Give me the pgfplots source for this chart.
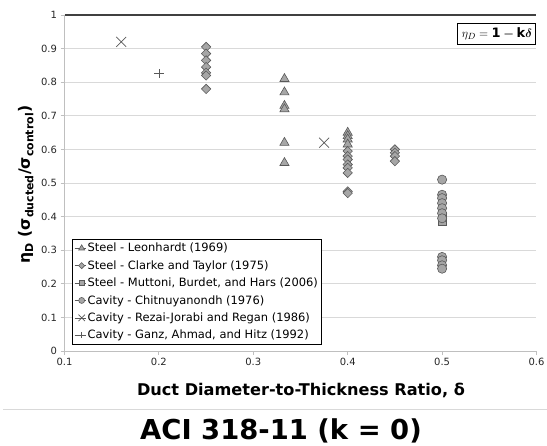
\documentclass[border=0pt]{standalone}
\usepackage{pgfplots}
\pgfplotsset{compat=1.18}
\usepackage{amsmath}
\usepackage{fontspec}
\setmainfont{DejaVu Sans}
\definecolor{mfill}{HTML}{A6A6A6}
\definecolor{mdraw}{HTML}{595959}
\definecolor{gridc}{HTML}{D9D9D9}
\definecolor{axisc}{HTML}{BFBFBF}
\definecolor{topc}{HTML}{404040}
\begin{document}
\begin{tikzpicture}
\begin{axis}[
  scale only axis, width=472bp, height=336bp,
  xmin=0.1, xmax=0.6, ymin=0, ymax=1,
  xtick={0.1,0.2,0.3,0.4,0.5,0.6},
  ytick={0,0.1,0.2,0.3,0.4,0.5,0.6,0.7,0.8,0.9,1},
  axis x line*=bottom, axis y line*=left,
  axis line style={axisc, line width=0.8bp},
  ymajorgrids, grid style={gridc, line width=0.8bp},
  tick align=outside, major tick length=4bp,
  tick style={axisc, line width=0.8bp},
  ticklabel style={font=\fontsize{10}{12}\selectfont, text=black!85},
  /pgf/number format/assume math mode=true,
  clip=false,
  xlabel={Duct Diameter-to-Thickness Ratio, δ},
  xlabel style={at={(axis description cs:0.501,-0.116)}, anchor=center, font=\fontsize{16.2}{18}\selectfont\bfseries},
  ylabel={η\textsubscript{D} (σ\textsubscript{ducted}/σ\textsubscript{control})},
  ylabel style={at={(axis description cs:-0.082,0.4955)}, anchor=center, font=\fontsize{15.7}{18}\selectfont\bfseries},
  legend style={at={(0.0153,0.018)}, anchor=south west, draw=black, line width=1.2bp,
    font=\fontsize{11.5}{13}\selectfont, inner xsep=2bp, inner ysep=2.5bp, row sep=4.2bp,
    nodes={inner xsep=1.5bp, inner ysep=1.5bp}},
  legend cell align=left,
  legend image code/.code={\path (-7bp,0bp) -- (4bp,0bp); \draw[every mark/.append style={scale=0.65}] plot coordinates {(0bp,0bp)};},
]
\addplot[only marks, mark=triangle*, mark size=5.3bp, line width=0.6bp, draw=mdraw, fill=mfill] coordinates {
 (0.333,0.81) (0.333,0.77) (0.333,0.73) (0.333,0.72) (0.333,0.62) (0.333,0.56)
 (0.4,0.65) (0.4,0.64) (0.4,0.63) (0.4,0.615)
};
\addlegendentry{Steel - Leonhardt (1969)}
\addplot[only marks, mark=square*, mark size=3.3bp, mark options={rotate=45}, line width=0.6bp, draw=mdraw, fill=mfill] coordinates {
 (0.25,0.905) (0.25,0.885) (0.25,0.865) (0.25,0.845) (0.25,0.828) (0.25,0.82) (0.25,0.78)
 (0.4,0.595) (0.4,0.58) (0.4,0.57) (0.4,0.555) (0.4,0.545) (0.4,0.53) (0.4,0.475) (0.4,0.47)
 (0.45,0.60) (0.45,0.59) (0.45,0.58) (0.45,0.565)
};
\addlegendentry{Steel - Clarke and Taylor (1975)}
\addplot[only marks, mark=square*, mark size=4bp, line width=0.6bp, draw=mdraw, fill=mfill] coordinates {
 (0.5,0.385) (0.5,0.40)
};
\addlegendentry{Steel - Muttoni, Burdet, and Hars (2006)}
\addplot[only marks, mark=*, mark size=4.6bp, line width=0.6bp, draw=mdraw, fill=mfill] coordinates {
 (0.5,0.51) (0.5,0.465) (0.5,0.455) (0.5,0.44) (0.5,0.425) (0.5,0.41) (0.5,0.395)
 (0.5,0.28) (0.5,0.27) (0.5,0.255) (0.5,0.245)
};
\addlegendentry{Cavity - Chitnuyanondh (1976)}
\addplot[only marks, mark=x, mark size=7bp, line width=0.7bp, draw=mdraw] coordinates {
 (0.16,0.92) (0.375,0.62)
};
\addlegendentry{Cavity - Rezai-Jorabi and Regan (1986)}
\addplot[only marks, mark=+, mark size=4.7bp, line width=0.7bp, draw=mdraw] coordinates {
 (0.2,0.825)
};
\addlegendentry{Cavity - Ganz, Ahmad, and Hitz (1992)}
\addplot[forget plot, no marks, topc, line width=1.8bp] coordinates {(0.1,1) (0.6,1)};
\node[draw=black, line width=1bp, anchor=north east, inner xsep=4bp, inner ysep=4.5bp, fill=white,
  font=\fontsize{13}{15}\selectfont] at (rel axis cs:1.0,0.976)
  {$\eta_{D} = \mathbf{1} \boldsymbol{-} \mathbf{k}\boldsymbol{\delta}$};
\end{axis}
\draw[gridc, line width=0.8bp] (-61bp,-58bp) -- (482.5bp,-58bp);
\node[anchor=base, font=\fontsize{27.5}{30}\selectfont\bfseries] at (216.5bp,-88.5bp) {ACI 318-11 (k = 0)};
\pgfresetboundingbox
\useasboundingbox (-64.5bp,-95bp) rectangle (482.5bp,351bp);
\end{tikzpicture}
\end{document}
